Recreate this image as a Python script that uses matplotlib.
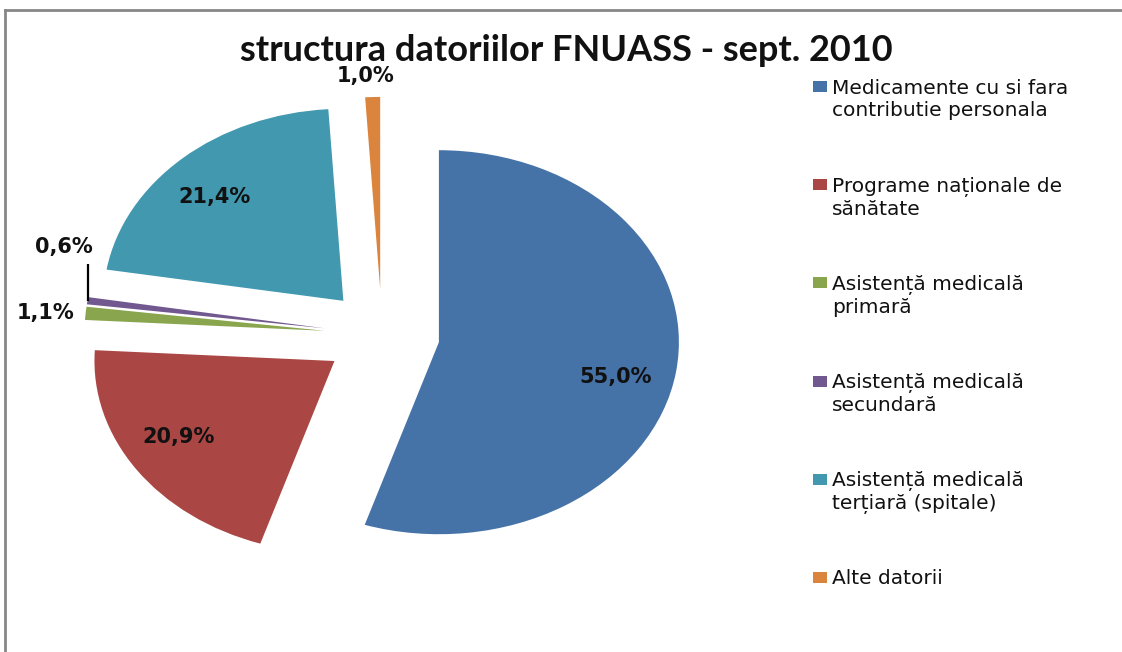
import matplotlib
matplotlib.use("Agg")
import matplotlib.pyplot as plt
import numpy as np
from matplotlib.patches import Rectangle
from matplotlib.lines import Line2D

# ---- data ----
categories = [
    "Medicamente cu si fara\ncontributie personala",
    "Programe naționale de\nsănătate",
    "Asistență medicală\nprimară",
    "Asistență medicală\nsecundară",
    "Asistență medicală\nterțiară (spitale)",
    "Alte datorii",
]
values = [55.0, 20.9, 1.1, 0.6, 21.4, 1.0]
value_labels = ["55,0%", "20,9%", "1,1%", "0,6%", "21,4%", "1,0%"]
colors = ["#4572A7", "#AA4643", "#89A54E", "#71588F", "#4198AF", "#DB843D"]
title = "structura datoriilor FNUASS - sept. 2010"

# ---- layout ----
W, H = 1122, 652
fig = plt.figure(figsize=(W / 100, H / 100), dpi=100)
fig.patch.set_facecolor("white")

cx, cy = 382, 335      # pie centre (px from top-left)
rx, ry = 240, 192      # pixel radius horizontally / vertically (stretched pie)
span = 1.6
ax = fig.add_axes([(cx - span * rx) / W, (H - cy - span * ry) / H,
                   2 * span * rx / W, 2 * span * ry / H])
explode = [0.24] * len(values)
wedges, _ = ax.pie(values, colors=colors, startangle=90, counterclock=False,
                   explode=explode, wedgeprops=dict(linewidth=0),
                   radius=1.0, frame=False)
ax.set_aspect("auto")
ax.set_xlim(-span, span)
ax.set_ylim(-span, span)
ax.axis("off")

lab_font = dict(family="DejaVu Sans", fontweight="bold", fontsize=15, color="#111111")

def mid_dir(w, extra=0.0):
    a = np.deg2rad((w.theta1 + w.theta2) / 2 + extra)
    return np.cos(a), np.sin(a)

# big slices: inside label
inside_adj = {0: -4.8, 1: -2.9, 4: 2.8}
for i, d in inside_adj.items():
    w = wedges[i]
    ux, uy = mid_dir(w, d)
    ax.text(w.center[0] + 0.76 * ux, w.center[1] + 0.76 * uy, value_labels[i],
            ha="center", va="center", **lab_font)

# green (1,1%): left of outer edge
w = wedges[2]
ux, uy = mid_dir(w)
ox, oy = w.center[0] + w.r * ux, w.center[1] + w.r * uy
ax.text(ox - 0.045, oy, value_labels[2], ha="right", va="center", **lab_font)

# purple (0,6%): leader line going up
w = wedges[3]
ux, uy = mid_dir(w)
ox, oy = w.center[0] + w.r * ux, w.center[1] + w.r * uy
ax.plot([ox, ox], [oy, oy + 0.19], color="black", lw=1.6, solid_capstyle="butt")
ax.text(ox + 0.02, oy + 0.23, value_labels[3], ha="right", va="bottom", **lab_font)

# orange (1,0%): above the tip
w = wedges[5]
ux, uy = mid_dir(w)
ox, oy = w.center[0] + w.r * ux, w.center[1] + w.r * uy
ax.text(ox - 0.03, oy + 0.06, value_labels[5], ha="center", va="bottom", **lab_font)

# ---- title ----
fig.text(566 / W, 1 - 61 / H, title, ha="center", va="baseline",
         fontsize=26, fontweight="bold", family="Lato", color="#111111")

# ---- legend (manual, handle aligned with first line) ----
leg_x_sq, leg_x_txt = 813, 832
base0, step, line_h = 93, 98.2, 23.4
for i, (lab, col) in enumerate(zip(categories, colors)):
    b = base0 + step * i
    n_lines = lab.count("\n") + 1
    fig.patches.append(Rectangle((leg_x_sq / W, 1 - (b - 1) / H), 14 / W, 11 / H,
                                 transform=fig.transFigure, facecolor=col,
                                 edgecolor="none"))
    fig.text(leg_x_txt / W, 1 - (b + line_h * (n_lines - 1)) / H, lab,
             ha="left", va="baseline", fontsize=14.5, family="DejaVu Sans",
             color="#111111", linespacing=1.2)

# ---- chart border (top and left visible) ----
fig.add_artist(Line2D([5 / W, 5 / W], [0, 1 - 10 / H], transform=fig.transFigure,
                      color="#878787", lw=2))
fig.add_artist(Line2D([5 / W, 1], [1 - 10 / H, 1 - 10 / H], transform=fig.transFigure,
                      color="#878787", lw=2))

fig.savefig("out.png", dpi=100, facecolor="white")
